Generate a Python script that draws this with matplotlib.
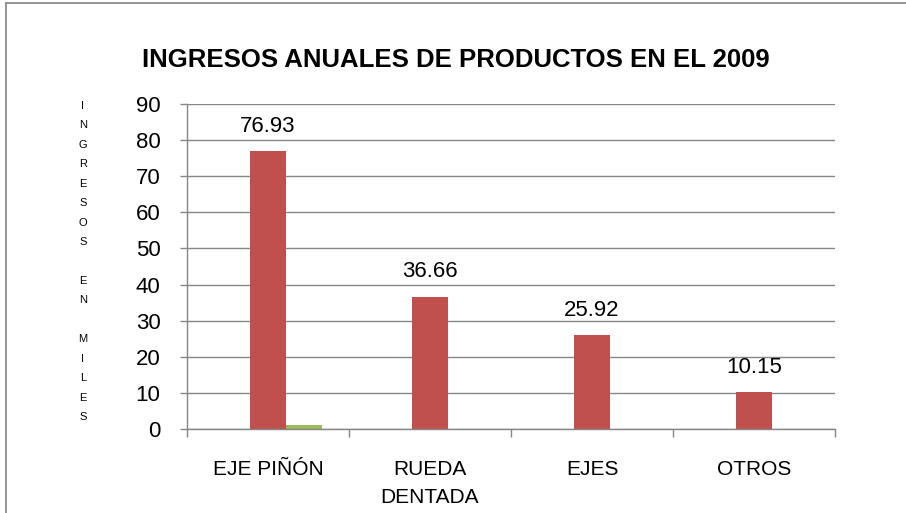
#!/usr/bin/env python3
"""Ingresos anuales de productos en el 2009 - grouped bar chart (Excel style)."""

import matplotlib

matplotlib.use("Agg")
import matplotlib.pyplot as plt
import numpy as np
from matplotlib.lines import Line2D

# ── data ──────────────────────────────────────────────
categories = ["EJE PIÑÓN", "RUEDA\nDENTADA", "EJES", "OTROS"]
serie1 = [0, 0, 0, 0]
serie2 = [76.93, 36.66, 25.92, 10.15]
serie3 = [1.0, 0, 0, 0]
yticks = [0, 10, 20, 30, 40, 50, 60, 70, 80, 90]
ylabel_text = "INGRESOS EN MILES"
title = "INGRESOS ANUALES DE PRODUCTOS EN EL 2009"

plt.rcParams["font.family"] = ["Liberation Sans", "DejaVu Sans"]

fig = plt.figure(figsize=(9.06, 5.13), dpi=100)

# outer chart border (left and top edges visible)
bx, by = 5.5 / 906, 1 - 2.5 / 513
fig.add_artist(Line2D([bx, bx], [0, by], transform=fig.transFigure,
                      color="#8c8c8c", linewidth=1.3))
fig.add_artist(Line2D([bx, 1], [by, by], transform=fig.transFigure,
                      color="#8c8c8c", linewidth=1.3))

ax = fig.add_axes([187 / 906, 84 / 513, 648 / 906, 325 / 513])

x = np.arange(len(categories))
w = 1 / 4.5
ax.bar(x - w, serie1, width=w, color="#4F81BD")
bars = ax.bar(x, serie2, width=w, color="#C0504D")
ax.bar(x + w, serie3, width=w, color="#9BBB59")

for b, v in zip(bars, serie2):
    ax.text(b.get_x() + b.get_width() / 2, v + 4.0, f"{v:.2f}", ha="center", va="bottom",
            fontsize=16)

ax.set_xlim(-0.5, len(categories) - 0.5)
ax.set_ylim(0, 90)
ax.set_yticks(yticks)
ax.set_yticklabels([str(t) for t in yticks], fontsize=16)
ax.yaxis.grid(True, color="#868686", linewidth=1)
ax.set_axisbelow(True)

ax.set_xticks(x)
ax.set_xticklabels(categories, fontsize=15, linespacing=1.6, va="top")
ax.tick_params(axis="x", length=0, pad=22)
ax.set_xticks(np.arange(-0.5, len(categories)), minor=True)
ax.tick_params(axis="x", which="minor", length=6, color="#868686", width=1)
ax.tick_params(axis="y", length=5, color="#868686", width=1, pad=14)

for s in ["top", "right"]:
    ax.spines[s].set_visible(False)
for s in ["left", "bottom"]:
    ax.spines[s].set_color("#868686")
    ax.spines[s].set_linewidth(1)

# vertical stacked y label
fig.text(83 / 906, 1 - 101 / 513, "\n".join(ylabel_text), ha="center", va="top",
         fontsize=8, linespacing=2.18)

fig.text(456 / 906, 1 - 60 / 513, title, ha="center", va="center", fontsize=18.5,
         fontweight="bold")

fig.savefig("out.png", dpi=100)
